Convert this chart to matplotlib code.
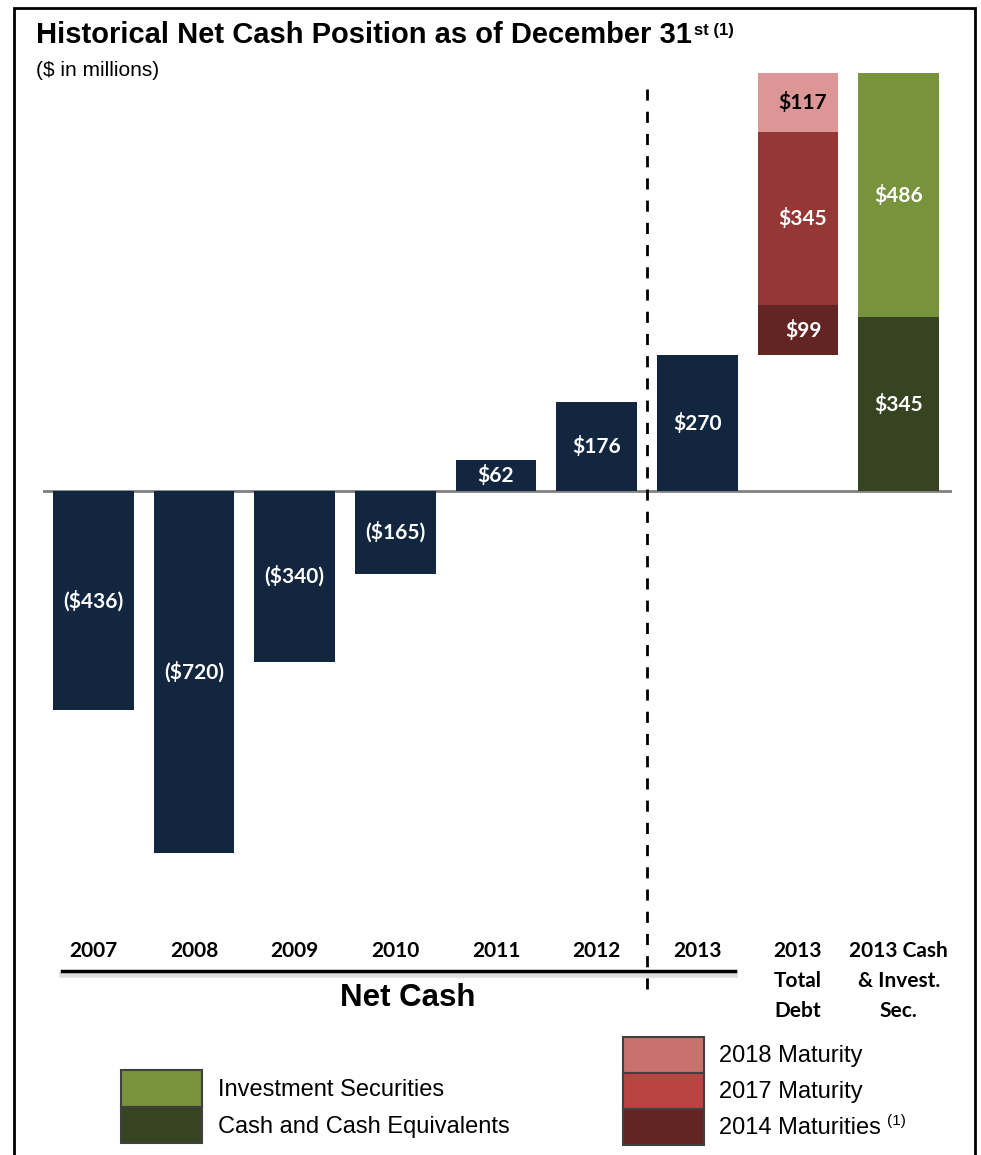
import matplotlib.pyplot as plt
from matplotlib.lines import Line2D
from matplotlib.patches import Rectangle

# data ($ in millions)
years = ["2007", "2008", "2009", "2010", "2011", "2012", "2013"]
net_cash = [-436, -720, -340, -165, 62, 176, 270]
debt_names = ["2014 Maturities", "2017 Maturity", "2018 Maturity"]
debt_values = [99, 345, 117]
cash_names = ["Cash and Cash Equivalents", "Investment Securities"]
cash_values = [345, 486]
extra_labels = ["2013\nTotal\nDebt", "2013 Cash\n& Invest.\nSec."]

navy = "#12263F"
debt_colors = ["#632523", "#953735", "#DB9695"]
debt_legend = ["#632523", "#B94441", "#C9716D"]
cash_colors = ["#374421", "#77933C"]
debt_text = ["white", "white", "black"]

W, H = 981, 1155
fig = plt.figure(figsize=(W / 100, H / 100), dpi=100)
renderer = fig.canvas.get_renderer()


def fx(x):
    return x / W


def fy(y):
    return 1 - y / H


def right_edge(t):
    return t.get_window_extent(renderer).x1 / W


bold_font = "Lato"
val_size = 15
ax = fig.add_axes([fx(43), fy(853), 909 / W, 780 / H])
ax.set_xlim(-0.5, 8.53)
ax.set_ylim(-720, 831)
ax.axis("off")

# net cash bars
xs = list(range(len(years)))
ax.bar(xs, net_cash, width=0.8, color=navy, zorder=2)
for x, v in zip(xs, net_cash):
    lab = f"${v}" if v > 0 else f"(${-v})"
    ax.text(x, v / 2, lab, ha="center", va="center", color="white",
            fontsize=val_size, fontweight="bold", family=bold_font, zorder=3)

# total debt stacked on top of 2013 net cash
x_debt = len(years)
base = net_cash[-1]
for v, c, tc in zip(debt_values, debt_colors, debt_text):
    ax.bar(x_debt, v, bottom=base, width=0.8, color=c, zorder=2)
    ax.text(x_debt + 0.05, base + v / 2, f"${v}", ha="center", va="center", color=tc,
            fontsize=val_size, fontweight="bold", family=bold_font, zorder=3)
    base += v

# cash & investment securities
x_cash = len(years) + 1
base = 0
for v, c in zip(cash_values, cash_colors):
    ax.bar(x_cash, v, bottom=base, width=0.8, color=c, zorder=2)
    ax.text(x_cash, base + v / 2, f"${v}", ha="center", va="center", color="white",
            fontsize=val_size, fontweight="bold", family=bold_font, zorder=3)
    base += v

ax.axhline(0, color="#808080", lw=2, zorder=1)

# dashed divider between 2012 and 2013
ax.plot([5.5, 5.5], [800, -1000], color="black", lw=2, ls=(0, (4, 4)),
        clip_on=False, zorder=4)

# category labels
for x, lab in zip(xs + [x_debt, x_cash], years + extra_labels):
    xp = ax.transData.transform((x, 0))[0] / W
    for i, line in enumerate(lab.split("\n")):
        fig.text(xp, fy(951 + 30 * i), line, ha="center", va="center",
                 fontsize=val_size, fontweight="bold", family=bold_font)

# underline for net cash years, with soft shadow
fig.add_artist(Line2D([fx(62), fx(735)], [fy(975), fy(975)], color="#c8c8c8",
                      lw=4, alpha=0.6))
fig.add_artist(Line2D([fx(62), fx(735)], [fy(971), fy(971)], color="black", lw=2.5))
fig.text(fx(408), fy(998), "Net Cash", ha="center", va="center", fontsize=22.5,
         fontweight="bold", family="Liberation Sans")

# title
title = fig.text(fx(36), fy(35), "Historical Net Cash Position as of December 31",
                 ha="left", va="center", fontsize=21, fontweight="bold",
                 family="Liberation Sans")
fig.text(right_edge(title) + fx(2), fy(30), "st (1)", ha="left", va="center",
         fontsize=12, fontweight="bold", family="Liberation Sans")
fig.text(fx(36), fy(70), "($ in millions)", ha="left", va="center", fontsize=15,
         family="Liberation Sans")

# legends
leg_size = 17
for i, (name, c) in enumerate(zip(cash_names[::-1], cash_colors[::-1])):
    y0 = 1070 + 36.5 * i
    fig.add_artist(Rectangle((fx(121), fy(y0 + 36.5)), 81 / W, 36.5 / H,
                             facecolor=c, edgecolor="#404040", lw=1.5))
    fig.text(fx(218), fy(y0 + 20), name, ha="left", va="center", fontsize=leg_size,
             family="Liberation Sans")

for i, (name, c) in enumerate(zip(debt_names[::-1], debt_legend[::-1])):
    y0 = 1037 + 36 * i
    fig.add_artist(Rectangle((fx(623), fy(y0 + 36)), 81 / W, 36 / H,
                             facecolor=c, edgecolor="#404040", lw=1.5))
    t = fig.text(fx(719), fy(y0 + 19), name, ha="left", va="center",
                 fontsize=leg_size, family="Liberation Sans")
fig.text(right_edge(t) + fx(6), fy(1121), "(1)", ha="left", va="center",
         fontsize=11, family="Liberation Sans")

# frame around the whole chart
fig.add_artist(Rectangle((fx(14), fy(1170)), 961 / W, 1162 / H, fill=False,
                         edgecolor="black", lw=2))

fig.savefig("out.png", dpi=100)
